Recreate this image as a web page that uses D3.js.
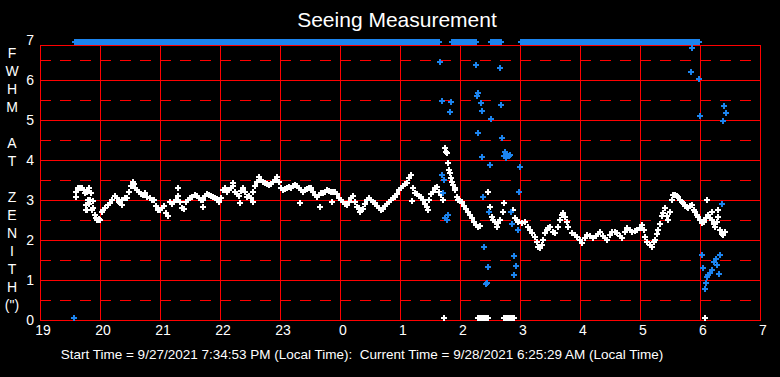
<!DOCTYPE html>
<html><head><meta charset="utf-8">
<script src="https://cdn.jsdelivr.net/npm/d3@7"></script>
<style>html,body{margin:0;padding:0;background:#000;}svg{display:block;}</style>
</head><body>
<script>
// ---- data (time in minutes after 19:00, FWHM in arcsec) ----
const hourTickMinutes = [0,60,120,180,240,300,360,420,480,540,600,660,720];
const hourTickLabels = ["19","20","21","22","23","0","1","2","3","4","5","6","7"];
const fwhmTicks = [0,1,2,3,4,5,6,7];
const fwhmDashed = [0.5,1.5,2.5,3.5,4.5,5.5,6.5];
const yTitleLetters = ["F","W","H","M","","A","T","","Z","E","N","I","T","H","(\")"];

const whitePoints = [
[36,3.21],[38,3.3],[40,3.3],[42,3.3],[44,3.25],[45,3.17],[47,3.2],[48,3.0],[49,2.9],[50,3.0],[52,2.75],[53,2.8],[55,2.62],[56,2.55],[57,2.5],[58,2.5],[59,2.52],[60,2.5],[62,2.7],[63,2.75],[65,2.8],[68,2.87],[70,2.92],[72,3.0],[75,3.1],[77,3.05],[79,2.95],[80,2.92],[82,3.0],[85,3.05],[87,3.05],[89,3.2],[91,3.35],[93,3.45],[94,3.4],[95,3.3],[97,3.25],[99,3.2],[101,3.15],[103,3.12],[105,3.17],[107,3.07],[110,3.05],[112,3.0],[114,3.0],[116,2.85],[118,2.75],[120,2.75],[122,2.8],[124,2.85],[126,2.68],[128,2.6],[130,2.95],[132,2.9],[134,2.95],[136,3.0],[138,3.1],[140,2.95],[142,2.8],[144,2.78],[146,2.95],[148,3.0],[150,3.05],[152,3.07],[155,3.12],[157,3.1],[159,3.05],[161,3.0],[163,3.0],[165,3.1],[167,3.15],[169,3.12],[171,3.1],[173,3.07],[175,3.05],[177,3.02],[179,2.95],[181,3.05],[183,3.25],[185,3.3],[187,3.2],[189,3.25],[191,3.3],[193,3.35],[195,3.2],[197,3.15],[199,3.1],[201,3.22],[203,3.3],[205,3.2],[207,3.07],[209,3.1],[211,3.05],[213,3.2],[215,3.35],[217,3.45],[219,3.57],[221,3.5],[223,3.45],[225,3.42],[227,3.4],[229,3.37],[231,3.4],[233,3.45],[235,3.5],[237,3.57],[239,3.45],[241,3.3],[243,3.25],[245,3.28],[247,3.3],[249,3.33],[251,3.3],[253,3.35],[255,3.37],[257,3.35],[259,3.3],[261,3.25],[263,3.2],[265,3.25],[267,3.28],[269,3.3],[271,3.3],[273,3.2],[275,3.12],[277,3.07],[279,3.12],[281,3.17],[283,3.17],[285,3.2],[287,3.25],[289,3.22],[291,3.2],[293,3.2],[295,3.2],[297,3.15],[299,3.05],[301,3.0],[303,2.95],[305,2.9],[307,2.87],[309,2.95],[311,3.05],[313,3.1],[315,2.95],[317,2.83],[319,2.8],[321,2.75],[323,2.78],[325,2.9],[327,3.0],[329,3.05],[331,3.0],[333,2.95],[335,2.92],[337,2.85],[339,2.8],[341,2.75],[343,2.78],[345,2.85],[347,2.9],[349,2.95],[351,3.0],[353,3.05],[355,3.07],[357,3.15],[359,3.25],[361,3.3],[363,3.35],[365,3.4],[367,3.42],[369,3.55],[371,3.62],[373,3.3],[375,3.17],[377,3.15],[379,3.1],[381,3.07],[383,3.0],[385,2.9],[387,2.83],[389,3.0],[391,3.15],[393,3.2],[395,3.3],[397,3.33],[399,3.2],[401,3.12],[403,3.0],
[405,4.3],[406,4.2],[407,4.17],[408,3.92],[409,3.75],[410,3.67],[411,3.55],[412,3.45],[413,3.37],[415,3.25],[417,3.07],[418,3.0],[420,2.97],[422,2.95],[424,2.85],[426,2.78],[428,2.7],[430,2.62],[432,2.55],[434,2.45],[436,2.38],[438,2.33],[440,2.35],
[448,3.2],[450,2.83],[452,2.58],[453,2.5],[455,2.45],[457,2.33],[458,2.42],[460,2.5],[463,2.7],[464,2.92],[473,2.75],[475,2.55],[477,2.5],[478,2.45],[482,2.42],[485,2.45],[488,2.33],[490,2.25],[492,2.17],[495,2.08],[497,1.95],[498,1.83],[500,1.8],[502,1.87],[503,2.0],[505,2.17],[507,2.25],[508,2.3],[510,2.33],[513,2.2],[515,2.17],[518,2.33],[520,2.5],[522,2.62],[523,2.67],[525,2.58],[527,2.45],[528,2.33],[532,2.17],[535,2.12],[537,2.08],[540,2.0],[542,1.92],[545,2.05],[547,2.12],[550,2.1],[553,2.05],[556,2.1],[558,2.15],[560,2.2],[563,2.1],[565,2.05],[567,2.0],[570,2.12],[572,2.2],[575,2.2],[577,2.17],[580,2.1],[582,2.05],[585,2.2],[587,2.3],[590,2.25],[592,2.2],[595,2.22],[597,2.25],[600,2.3],[602,2.37],[604,2.25],[605,2.08],[607,1.95],[610,1.87],[612,1.83],[614,1.95],[615,2.0],[617,2.15],[618,2.25],[620,2.4],[622,2.6],[623,2.67],[625,2.8],[627,2.6],[628,2.5],[630,2.7],[632,3.0],[633,3.12],[635,3.12],[637,3.1],[638,3.07],[640,3.0],[642,2.95],[643,2.92],[645,2.85],[647,2.82],[648,2.8],[650,2.85],[652,2.87],[654,2.75],[655,2.7],[657,2.62],[658,2.58],[660,2.5],[662,2.42],[664,2.45],[666,2.55],[668,2.62],[670,2.55],[672,2.5],[674,2.4],[675,2.33],[677,2.45],[678,2.58],[680,2.25],[682,2.15],[683,2.12],[685,2.2],
[36,3.08],[46,2.75],[46,2.87],[49,3.3],[51,3.17],[53,2.97],[667,3.0],[672,2.7],[678,2.75],
[47,2.75],[63,2.75],[82,2.87],[138,3.3],[163,2.83],[193,3.42],[200,2.92],[213,2.95],[260,2.92],[280,2.83],[292,2.95],[320,2.7],[372,2.97],[388,2.75],[415,3.3],
[404,0.05],[438,0.05],[440,0.05],[442,0.05],[444,0.05],[446,0.05],[448,0.05],[464,0.05],[466,0.05],[468,0.05],[470,0.05],[472,0.05],[474,0.05],[665,0.05]
];

const bluePoints = [
[34,0.05],
[400,6.44],[436,6.37],[460,6.3],[402,5.47],[411,5.45],[410,5.2],[438,5.67],[437,5.6],[441,5.42],[461,5.37],[442,5.22],[451,5.02],[438,4.67],[462,4.55],[442,4.07],[450,3.87],[465,4.2],[464,4.1],[467,4.12],[469,4.1],[466,4.05],[470,4.12],[480,3.82],[402,3.62],[404,3.5],[403,3.17],[479,3.2],[443,3.07],[449,2.7],[471,2.7],[405,2.55],[407,2.5],[408,2.62],[472,2.4],[478,2.25],[444,1.83],[474,1.6],[448,1.32],[476,1.35],[474,1.13],[447,0.93],[446,0.9],
[652,6.8],[651,6.2],[659,6.02],[684,5.35],[686,5.17],[683,4.97],[660,5.1],[682,2.9],[662,1.62],[680,1.62],[676,1.52],[674,1.45],[677,1.37],[663,1.3],[672,1.25],[670,1.18],[668,1.12],[679,1.15],[667,1.08],[666,0.92],[665,0.77]
];

// blue measurements above the top of the scale (pegged at the top edge)
const blueOffScaleMinutes = [
35,37,39,41,43,45,47,49,51,53,55,57,59,61,63,65,67,69,71,73,75,77,79,81,83,85,87,89,91,93,95,97,99,
101,103,105,107,109,111,113,115,117,119,121,123,125,127,129,131,133,135,137,139,141,143,145,147,149,
151,153,155,157,159,161,163,165,167,169,171,173,175,177,179,181,183,185,187,189,191,193,195,197,199,
201,203,205,207,209,211,213,215,217,219,221,223,225,227,229,231,233,235,237,239,241,243,245,247,249,
251,253,255,257,259,261,263,265,267,269,271,273,275,277,279,281,283,285,287,289,291,293,295,297,299,
301,303,305,307,309,311,313,315,317,319,321,323,325,327,329,331,333,335,337,339,341,343,345,347,349,
351,353,355,357,359,361,363,365,367,369,371,373,375,377,379,381,383,385,387,389,391,393,395,397,399,
412,414,416,418,420,422,424,426,428,430,432,434,436,
451,453,455,457,459,461,
481,483,485,487,489,491,493,495,497,499,501,503,505,507,509,511,513,515,517,519,521,523,525,527,529,
531,533,535,537,539,541,543,545,547,549,551,553,555,557,559,561,563,565,567,569,571,573,575,577,579,
581,583,585,587,589,591,593,595,597,599,601,603,605,607,609,611,613,615,617,619,621,623,625,627,629,
631,633,635,637,639,641,643,645,647,649,650,
652,654,656,658,659
];
const offScaleValue = 6.95;
const frameTopValue = 6.875;

const titleText = "Seeing Measurement";
const footerText = "Start Time = 9/27/2021 7:34:53 PM (Local Time):  Current Time = 9/28/2021 6:25:29 AM (Local Time)";

// ---- drawing ----
const W = 780, H = 377;
const svg = d3.select("body").append("svg").attr("width", W).attr("height", H)
  .style("background", "#000");
const x = d3.scaleLinear().domain([0, 720]).range([40, 760]);
const y = d3.scaleLinear().domain([0, 7]).range([320, 40]);
const font = "Arial, 'Liberation Sans', sans-serif";
const red = "#ff0000";
const blue = "#1c84ee";

svg.append("text").attr("x", 397).attr("y", 27).attr("text-anchor", "middle")
  .attr("fill", "#fff").style("font", `21px ${font}`).text(titleText);

const grid = svg.append("g").attr("shape-rendering", "crispEdges");
grid.selectAll("line.dash").data(fwhmDashed).join("line")
  .attr("x1", x(0)).attr("x2", x(720)).attr("y1", d => Math.round(y(d)) + 0.5).attr("y2", d => Math.round(y(d)) + 0.5)
  .attr("stroke", red).attr("stroke-width", 1).attr("stroke-dasharray", "11,9");
grid.selectAll("line.solid").data(fwhmTicks.filter(d => d > 0 && d < 7)).join("line")
  .attr("x1", x(0)).attr("x2", x(720)).attr("y1", d => Math.round(y(d)) + 0.5).attr("y2", d => Math.round(y(d)) + 0.5)
  .attr("stroke", red).attr("stroke-width", 1);
grid.selectAll("line.v").data(hourTickMinutes).join("line")
  .attr("x1", d => Math.round(x(d)) + 0.5).attr("x2", d => Math.round(x(d)) + 0.5)
  .attr("y1", Math.round(y(frameTopValue)) + 0.5).attr("y2", y(0) + 0.5)
  .attr("stroke", red).attr("stroke-width", 1);
grid.selectAll("line.h").data([frameTopValue, 0]).join("line")
  .attr("x1", x(0)).attr("x2", x(720) + 1).attr("y1", d => Math.round(y(d)) + 0.5).attr("y2", d => Math.round(y(d)) + 0.5)
  .attr("stroke", red).attr("stroke-width", 1);

svg.selectAll("text.yt").data(fwhmTicks).join("text")
  .attr("x", 34).attr("y", d => y(d) + 5).attr("text-anchor", "end")
  .attr("fill", "#fff").style("font", `14px ${font}`).text(d => d);
svg.selectAll("text.xt").data(hourTickMinutes).join("text")
  .attr("x", d => x(d) + 3).attr("y", 335).attr("text-anchor", "middle")
  .attr("fill", "#fff").style("font", `14px ${font}`).text((d, i) => hourTickLabels[i]);
svg.selectAll("text.ytitle").data(yTitleLetters).join("text")
  .attr("x", 12).attr("y", (d, i) => 58 + i * 18).attr("text-anchor", "middle")
  .attr("fill", "#fff").style("font", `14px ${font}`).text(d => d);

svg.append("text").attr("x", 362).attr("y", 359).attr("text-anchor", "middle")
  .attr("fill", "#fff").style("font", `13.5px ${font}`).style("white-space", "pre").text(footerText);

const plus = (r) => `M${-r},0H${r}M0,${-r}V${r}`;
const marks = svg.append("g").attr("shape-rendering", "crispEdges");
marks.selectAll("path.white").data(whitePoints).join("path")
  .attr("d", plus(3))
  .attr("transform", d => `translate(${Math.round(x(d[0]))},${Math.round(y(d[1]))})`)
  .attr("stroke", "#fff").attr("stroke-width", 2).attr("fill", "none");
marks.selectAll("path.blue").data(bluePoints).join("path")
  .attr("d", plus(3))
  .attr("transform", d => `translate(${Math.round(x(d[0]))},${Math.round(y(d[1]))})`)
  .attr("stroke", blue).attr("stroke-width", 2).attr("fill", "none");
marks.selectAll("path.bluetop").data(blueOffScaleMinutes).join("path")
  .attr("d", plus(3))
  .attr("transform", d => `translate(${Math.round(x(d))},${Math.round(y(offScaleValue))})`)
  .attr("stroke", blue).attr("stroke-width", 2).attr("fill", "none");
</script>
</body></html>
